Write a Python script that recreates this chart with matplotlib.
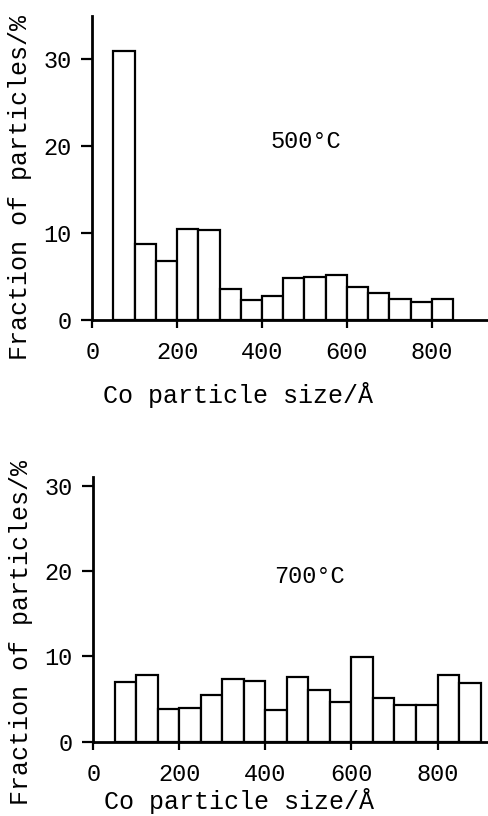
import numpy as np
from matplotlib import pyplot as plt

plt.rcParams['font.family'] = ['Liberation Mono', 'DejaVu Sans Mono']

# bin left edges (Angstrom), width 50
edges_500 = np.arange(50, 850, 50)
frac_500 = [31.0, 8.7, 6.8, 10.5, 10.3, 3.5, 2.3, 2.7, 4.8, 4.9, 5.2,
            3.8, 3.1, 2.4, 2.1, 2.4]

edges_700 = np.arange(50, 900, 50)
frac_700 = [7.0, 7.8, 3.8, 3.9, 5.5, 7.4, 7.1, 3.7, 7.6, 6.1, 4.7,
            9.9, 5.1, 4.3, 4.3, 7.8, 6.9]

xticks = [0, 200, 400, 600, 800]
yticks = [0, 10, 20, 30]

fig = plt.figure(figsize=(4.88, 8.16), dpi=100)


def panel(rect, edges, fracs, label, label_y, xmax, ymax):
    ax = fig.add_axes(rect)
    ax.bar(edges, fracs, width=50, align='edge', facecolor='white',
           edgecolor='black', linewidth=1.6)
    ax.set_xlim(0, xmax)
    ax.set_ylim(0, ymax)
    ax.set_xticks(xticks)
    ax.set_yticks(yticks)
    for s in ['top', 'right']:
        ax.spines[s].set_visible(False)
    for s in ['left', 'bottom']:
        ax.spines[s].set_linewidth(2)
    ax.tick_params(axis='x', direction='out', length=6, width=1.6,
                   pad=9, labelsize=17)
    ax.tick_params(axis='y', direction='out', length=8, width=1.6,
                   pad=7, labelsize=17)
    ax.set_xlabel('Co particle size/Å', fontsize=18)
    ax.set_ylabel('Fraction of particles/%', fontsize=18)
    ax.text(420, label_y, label, fontsize=17, va='center', ha='left')
    return ax


ax1 = panel([0.189, 0.608, 0.809, 0.3725], edges_500, frac_500,
            '500°C', 20.5, 930, 35)
ax1.yaxis.set_label_coords(-0.152, 0.434)
ax1.xaxis.set_label_coords(0.37, -0.205)

ax2 = panel([0.191, 0.091, 0.807, 0.324], edges_700, frac_700,
            '700°C', 19.4, 915, 31)
ax2.yaxis.set_label_coords(-0.152, 0.415)
ax2.xaxis.set_label_coords(0.37, -0.176)

plt.savefig('out.png', dpi=100)
